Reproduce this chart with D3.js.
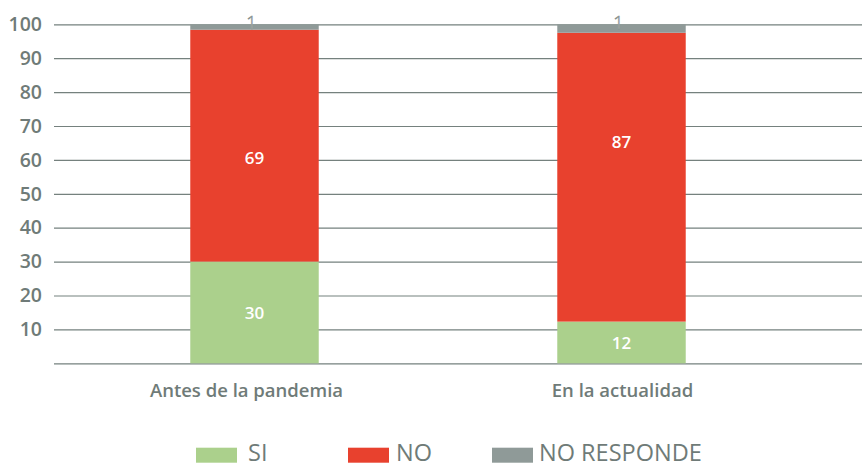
<!DOCTYPE html>
<html>
<head>
<meta charset="utf-8">
<script src="https://cdn.jsdelivr.net/npm/d3@7"></script>
<style>
  html, body { margin: 0; padding: 0; background: #fff; }
  svg { display: block; font-family: 'Open Sans', sans-serif; }
</style>
</head>
<body>
<svg id="chart" width="862" height="464"></svg>
<script>
const categories = ['Antes de la pandemia', 'En la actualidad'];
const series = ['SI', 'NO', 'NO RESPONDE'];
// drawn segment sizes
const siValues = [30, 12.3];
const noValues = [68.4, 85.2];
const nrValues = [1.6, 2.5];
// printed labels
const siLabels = ['30', '12'];
const noLabels = ['69', '87'];
const nrLabels = ['1', '1'];
// where the NO labels sit on the value axis
const noLabelAt = [60.7, 65.4];
const yTicks = [0, 10, 20, 30, 40, 50, 60, 70, 80, 90, 100];

const colors = { 'SI': '#abd08c', 'NO': '#e8412e', 'NO RESPONDE': '#8f9a98' };
const textGray = '#6f7b78';

const svg = d3.select('#chart');

const x = d3.scaleBand()
  .domain(categories)
  .range([71, 805])
  .paddingInner(0.65)
  .paddingOuter(0.325);

const y = d3.scaleLinear()
  .domain([0, 100])
  .range([363.3, 24.3]);

// grid + ticks
svg.append('g')
  .attr('transform', 'translate(54,0)')
  .call(d3.axisLeft(y)
    .tickValues(yTicks)
    .tickSize(-808)
    .tickPadding(12)
    .tickFormat((d) => (d === 0 ? '' : d)))
  .call((g) => g.select('.domain').remove())
  .call((g) => g.selectAll('line').attr('stroke', '#75817e').attr('stroke-width', 1.2))
  .call((g) => g.selectAll('text')
    .attr('fill', textGray)
    .attr('font-size', 19.5)
    .attr('font-weight', 600)
    .attr('font-family', "'Open Sans', sans-serif"));

const rows = categories.map((c, i) => ({
  cat: c, 'SI': siValues[i], 'NO': noValues[i], 'NO RESPONDE': nrValues[i],
}));
const stacked = d3.stack().keys(series)(rows);

svg.append('g').selectAll('g')
  .data(stacked)
  .join('g')
  .attr('fill', (d) => colors[d.key])
  .selectAll('rect')
  .data((d) => d)
  .join('rect')
  .attr('x', (d) => x(d.data.cat))
  .attr('width', x.bandwidth())
  .attr('y', (d) => y(d[1]))
  .attr('height', (d) => y(d[0]) - y(d[1]));

// value labels
const labels = svg.append('g')
  .attr('text-anchor', 'middle')
  .attr('font-size', 17)
  .attr('font-weight', 600)
  .attr('fill', '#fff');

labels.selectAll('text.si')
  .data(stacked[0])
  .join('text')
  .attr('class', 'si')
  .attr('x', (d) => x(d.data.cat) + x.bandwidth() / 2)
  .attr('y', (d) => y((d[0] + d[1]) / 2))
  .attr('dy', '0.36em')
  .text((d, i) => siLabels[i]);

labels.selectAll('text.no')
  .data(stacked[1])
  .join('text')
  .attr('class', 'no')
  .attr('x', (d) => x(d.data.cat) + x.bandwidth() / 2)
  .attr('y', (d, i) => y(noLabelAt[i]))
  .attr('dy', '0.36em')
  .text((d, i) => noLabels[i]);

labels.selectAll('text.nr')
  .data(stacked[2])
  .join('text')
  .attr('class', 'nr')
  .attr('x', (d) => x(d.data.cat) + x.bandwidth() / 2 - 3)
  .attr('y', (d) => y(d[1]) - 1.5)
  .attr('dy', '0.36em')
  .attr('font-size', 18)
  .attr('font-weight', 300)
  .attr('stroke', '#7d8886')
  .attr('stroke-width', 0.6)
  .text((d, i) => nrLabels[i]);

// category labels
svg.append('g').selectAll('text')
  .data(categories)
  .join('text')
  .attr('x', (d) => x(d) + x.bandwidth() / 2)
  .attr('dx', (d, i) => (i === 0 ? -8 : 1))
  .attr('y', 396.7)
  .attr('text-anchor', 'middle')
  .attr('font-size', 18.5)
  .attr('font-weight', 600)
  .attr('fill', textGray)
  .text((d) => d);

// legend
const legendX = [196, 348, 492];
const legendGap = [52, 48, 47];
const legend = svg.append('g').selectAll('g')
  .data(series)
  .join('g')
  .attr('transform', (d, i) => `translate(${legendX[i]},447.7)`);

legend.append('rect')
  .attr('width', 41)
  .attr('height', 15)
  .attr('fill', (d) => colors[d]);

legend.append('text')
  .attr('x', (d, i) => legendGap[i])
  .attr('y', 13)
  .attr('font-size', 23.5)
  .attr('fill', textGray)
  .text((d) => d);
</script>
</body>
</html>
